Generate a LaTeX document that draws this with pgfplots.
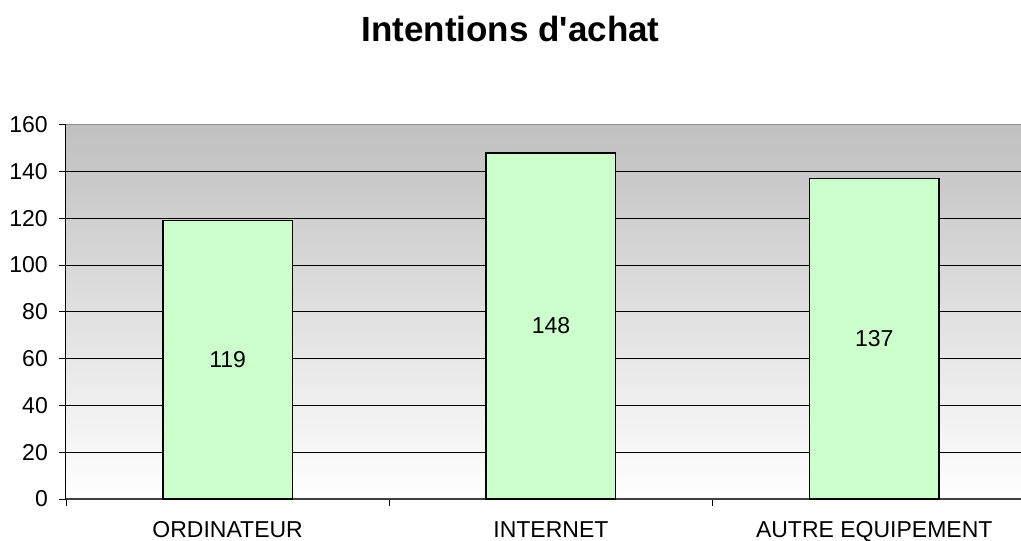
\documentclass[border=0pt]{standalone}
\usepackage{fontspec}
\setmainfont{Liberation Sans}
\newfontfamily\titlefont{Liberation Sans}
\usepackage{pgfplots}
\pgfplotsset{compat=1.18}
\definecolor{barfill}{HTML}{CCFFCC}
\definecolor{bgtop}{HTML}{C0C0C0}
\definecolor{topline}{HTML}{8C8C8C}
\begin{document}
\begin{tikzpicture}[x=1pt,y=1pt]
\useasboundingbox (0,0) rectangle (1021,541);
\node[anchor=base, inner sep=0pt, font=\titlefont\fontsize{35}{40}\selectfont\bfseries] at (510.5,499.3) {Intentions d'achat};
\begin{axis}[
  at={(66pt,42pt)}, anchor=south west,
  scale only axis, width=955pt, height=374.3pt,
  xmin=-0.5, xmax=2.454, ymin=0, ymax=160,
  axis x line*=bottom, axis y line*=left,
  x axis line style={draw=black!75, line width=1.3pt},
  y axis line style={draw=black, line width=1pt},
  ytick={0,20,...,160},
  xtick={0,1,2},
  xticklabels={ORDINATEUR, INTERNET, AUTRE EQUIPEMENT},
  minor xtick={-0.5,0.5,1.5},
  tick align=outside,
  major tick length=7pt,
  minor tick length=7pt,
  major x tick style={draw=none},
  tick style={black, line width=0.9pt},
  ymajorgrids,
  major grid style={black, line width=0.9pt},
  /pgf/number format/assume math mode=true,
  ticklabel style={font=\fontsize{23}{27}\selectfont},
  yticklabel style={inner sep=0pt, xshift=-11pt},
  xticklabel style={inner sep=0pt, yshift=-15pt},
  axis background/.style={shade, top color=bgtop, bottom color=white},
  ybar, bar width=0.4,
  nodes near coords,
  nodes near coords style={font=\fontsize{23}{27}\selectfont, anchor=center, black},
  visualization depends on={rawy \as \rawy},
  every node near coord/.append style={shift={(axis direction cs:0,-\rawy/2)}},
  clip=false,
]
\addplot[fill=barfill, draw=black, line width=1.6pt] coordinates {(0,119) (1,148) (2,137)};
\draw[topline, line width=1.6pt] (rel axis cs:0,1) -- (rel axis cs:1,1);
\end{axis}
\end{tikzpicture}
\end{document}
